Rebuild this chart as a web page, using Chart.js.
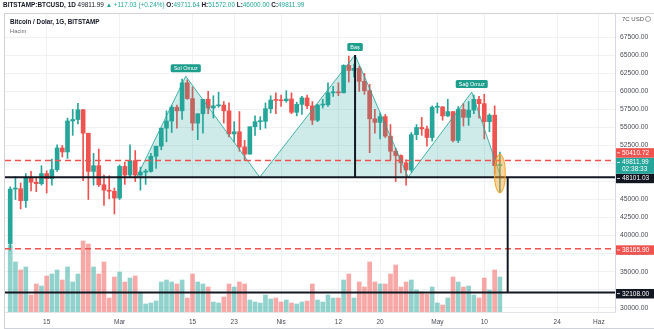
<!DOCTYPE html>
<html>
<head>
<meta charset="utf-8">
<script src="https://cdn.jsdelivr.net/npm/chart.js@4.4.1/dist/chart.umd.min.js"></script>
<style>
  html, body { margin: 0; padding: 0; background: #ffffff; overflow: hidden; }
  canvas { display: block; }
</style>
</head>
<body>
<canvas id="chart" width="654" height="329"></canvas>
<script>
// ---- Daily BTC/USD candles (Bitstamp), 8 Feb – 13 May 2021 ----
const firstDay = '2021-02-08';
const dayCount = 95;
const dates = (() => {
  const out = [];
  const d = new Date(firstDay + 'T00:00:00Z');
  for (let i = 0; i < dayCount; i++) {
    out.push(d.toISOString().slice(0, 10));
    d.setUTCDate(d.getUTCDate() + 1);
  }
  return out;
})();

const open = [
  38886, 46448, 46500, 44850, 47990, 47400, 47200, 48600, 47900, 49150,
  52150, 51600, 55900, 56100, 57450, 54200, 48900, 49700, 47050, 46300,
  46150, 45200, 49600, 48400, 50400, 48400, 48800, 48900, 51000, 52400,
  54900, 55900, 57800, 57300, 61200, 59000, 55600, 56900, 58900, 57700,
  58000, 58100, 57300, 54100, 54400, 52300, 51300, 55100, 55800, 55850,
  57600, 58800, 58750, 58700, 58950, 57100, 58200, 59100, 58000, 56000,
  58100, 58150, 59800, 59900, 59800, 63600, 62900, 63200, 61400, 60100,
  56200, 55700, 56500, 53800, 51700, 51100, 50100, 49100, 54000, 55000,
  54800, 53600, 57800, 57850, 56600, 57200, 53200, 57500, 56400, 57400,
  58900, 58300, 55800, 56700, 49711.64
];
const high = [
  46750, 48200, 47300, 48600, 48900, 48100, 49700, 49000, 50600, 52600,
  52500, 56300, 57500, 58350, 57500, 54200, 51400, 52000, 48400, 48300,
  46600, 49800, 50200, 52600, 51800, 49500, 49200, 51400, 52400, 54900,
  57300, 58100, 58100, 61700, 61600, 60600, 56900, 58900, 60000, 59400,
  59900, 58600, 58400, 55800, 57200, 53200, 55100, 56600, 56500, 58400,
  59400, 59800, 59500, 60100, 59800, 58500, 59300, 59500, 58600, 58200,
  58900, 61200, 60700, 61200, 63700, 64900, 63800, 63500, 62500, 61000,
  57500, 57000, 56800, 55400, 52100, 51200, 50500, 54300, 55400, 56400,
  55200, 58000, 58400, 57900, 58900, 57200, 57900, 58300, 58600, 59500,
  59300, 59600, 56900, 58000, 51572.00
];
const low = [
  37990, 45000, 43700, 43900, 46200, 46100, 47000, 45900, 47000, 48900,
  50900, 50700, 53900, 55500, 47600, 45000, 47000, 46800, 44200, 45100,
  43000, 45000, 47100, 48100, 47500, 46300, 47100, 48800, 49300, 51900,
  53000, 54300, 54900, 56100, 58900, 54600, 53300, 54200, 56900, 56300,
  57800, 55600, 53700, 53000, 51700, 50400, 51300, 53900, 54700, 54900,
  57000, 56900, 57900, 58500, 56900, 56600, 56800, 57600, 55400, 55800,
  57700, 57900, 59300, 59400, 59800, 61300, 62000, 60000, 59600, 51500,
  54200, 53400, 53600, 50500, 47500, 48700, 47000, 48800, 53300, 53900,
  52400, 53100, 57000, 56000, 56500, 53000, 52900, 55200, 55300, 56900,
  56300, 53400, 54400, 48600, 46000.00
];
const close = [
  46448, 46500, 44850, 47990, 47400, 47200, 48600, 47900, 49150, 52150,
  51600, 55900, 56100, 57450, 54200, 48900, 49700, 47050, 46300, 46150,
  45200, 49600, 48400, 50400, 48400, 48800, 48900, 51000, 52400, 54900,
  55900, 57800, 57300, 61200, 59000, 55600, 56900, 58900, 57700, 58000,
  58100, 57300, 54100, 54400, 52300, 51300, 55100, 55800, 55850, 57600,
  58800, 58750, 58700, 58950, 57100, 58200, 59100, 58000, 56000, 58100,
  58150, 59800, 59900, 59800, 63600, 62900, 63200, 61400, 60100, 56200,
  55700, 56500, 53800, 51700, 51100, 50100, 49100, 54000, 55000, 54800,
  53600, 57800, 57850, 56600, 57200, 53200, 57500, 56400, 57400, 58900,
  58300, 55800, 56700, 49695, 49811.99
];
// Volume (Hacim), BTC
const volume = [
  20100, 15000, 12600, 13500, 5100, 8400, 7800, 10800, 11400, 12600,
  9600, 13500, 9000, 11400, 21300, 20400, 13500, 11400, 15000, 4200,
  10500, 12000, 9000, 10200, 10800, 6000, 2400, 2700, 3300, 9000,
  9600, 9000, 8400, 9600, 4200, 11400, 9000, 8400, 7500, 3000,
  2700, 4500, 8400, 7500, 9000, 8400, 3600, 3000, 2700, 5100,
  3900, 4200, 3000, 3600, 2700, 2400, 3000, 3300, 8400, 3600,
  3000, 5100, 4200, 4200, 9600, 11400, 4200, 9000, 7500, 15000,
  9000, 8400, 8400, 11400, 14100, 7500, 9000, 9600, 6600, 6000,
  5400, 7500, 2700, 2100, 4200, 10500, 9000, 7500, 7800, 5100,
  4200, 10200, 6600, 12600, 10500
];

// Time axis ticks
const xTickDates  = ['2021-02-15', '2021-03-01', '2021-03-15', '2021-03-23', '2021-04-01', '2021-04-12',
                     '2021-04-20', '2021-05-01', '2021-05-10', '2021-05-24', '2021-06-01'];
const xTickLabels = ['15', 'Mar', '15', '23', 'Nis', '12', '20', 'May', '10', '24', 'Haz'];

// Price axis ticks
const yTickValues = [30000, 32500, 35000, 37500, 40000, 42500, 45000, 47500, 50000,
                     52500, 55000, 57500, 60000, 62500, 65000, 67500];
const yTicksHidden = [32500, 47500, 50000];

// Marked price levels
const neckline      = 48101.03;
const targetLevel   = 32108.00;
const resistance    = 50410.72;
const supportLevel  = 38165.90;
const lastPrice     = 49811.99;
const countdown     = '02:38:33';

// Head & shoulders drawing (day offset from first candle, price)
const patternDays   = [24.3, 33.7, 47.9, 66.2, 76.4, 88.6, 94.2];
const patternPrices = [48101.03, 62100, 48101.03, 65050, 48101.03, 59900, 48101.03];
const patternNames  = ['', 'Sol Omuz', '', 'Baş', '', 'Sağ Omuz', ''];
const targetLineDay = 95.5;

// Highlight around the latest candle
const markDay = 94, markPrice = 48600, markDays = 1.05, markPriceSpan = 2700;

// ---------------------------------------------------------------
const UP = '#26a69a', DOWN = '#ef5350';
const UP_VOL = 'rgba(38,166,154,0.5)', DOWN_VOL = 'rgba(239,83,80,0.5)';
const FONT = "'Liberation Sans', Arial, sans-serif";

const dayIndex = s => Math.round((Date.parse(s + 'T00:00:00Z') - Date.parse(firstDay + 'T00:00:00Z')) / 86400000);
const xTickDays = xTickDates.map(dayIndex);
const isUp = i => close[i] >= open[i];

const bodies = dates.map((d, i) => ({ x: i, y: [open[i], close[i]] }));
const wicks  = dates.map((d, i) => ({ x: i, y: [low[i], high[i]] }));
const vols   = dates.map((d, i) => ({ x: i, y: volume[i] }));
const candleColors = dates.map((d, i) => isUp(i) ? UP : DOWN);
const volColors    = dates.map((d, i) => isUp(i) ? UP_VOL : DOWN_VOL);
const pattern = patternDays.map((d, i) => ({ x: d, y: patternPrices[i] }));

function roundRect(ctx, x, y, w, h, r) {
  ctx.beginPath();
  ctx.moveTo(x + r, y);
  ctx.lineTo(x + w - r, y); ctx.quadraticCurveTo(x + w, y, x + w, y + r);
  ctx.lineTo(x + w, y + h - r); ctx.quadraticCurveTo(x + w, y + h, x + w - r, y + h);
  ctx.lineTo(x + r, y + h); ctx.quadraticCurveTo(x, y + h, x, y + h - r);
  ctx.lineTo(x, y + r); ctx.quadraticCurveTo(x, y, x + r, y);
  ctx.closePath();
}

const overlay = {
  id: 'overlay',
  afterDatasetsDraw(chart) {
    const { ctx, chartArea: a, scales: { x, y } } = chart;
    ctx.save();
    ctx.beginPath();
    ctx.rect(a.left, a.top, a.right - a.left, a.bottom - a.top);
    ctx.clip();

    // dashed red levels
    ctx.strokeStyle = DOWN;
    ctx.lineWidth = 1.5;
    ctx.setLineDash([6, 4]);
    [resistance, supportLevel].forEach(v => {
      const py = y.getPixelForValue(v);
      ctx.beginPath(); ctx.moveTo(a.left, py); ctx.lineTo(a.right - 3, py); ctx.stroke();
    });
    ctx.setLineDash([]);

    // solid black levels
    ctx.strokeStyle = '#131722';
    ctx.lineWidth = 2;
    [neckline, targetLevel].forEach(v => {
      const py = y.getPixelForValue(v);
      ctx.beginPath(); ctx.moveTo(a.left, py); ctx.lineTo(a.right, py); ctx.stroke();
    });

    // head height and projected target
    const hx = x.getPixelForValue(patternDays[3]);
    ctx.beginPath();
    ctx.moveTo(hx, y.getPixelForValue(patternPrices[3]));
    ctx.lineTo(hx, y.getPixelForValue(neckline));
    ctx.stroke();
    const tx = x.getPixelForValue(targetLineDay);
    ctx.beginPath();
    ctx.moveTo(tx, y.getPixelForValue(neckline));
    ctx.lineTo(tx, y.getPixelForValue(targetLevel));
    ctx.stroke();

    // highlight on the latest candle
    const cx = x.getPixelForValue(markDay), cy = y.getPixelForValue(markPrice);
    const rx = x.getPixelForValue(markDay + markDays) - cx;
    const ry = cy - y.getPixelForValue(markPrice + markPriceSpan);
    ctx.beginPath();
    ctx.ellipse(cx, cy, rx, ry, 0, 0, Math.PI * 2);
    ctx.fillStyle = 'rgba(255,160,40,0.45)';
    ctx.fill();
    ctx.strokeStyle = '#f5a22a';
    ctx.lineWidth = 1;
    ctx.stroke();

    // pattern point tags
    ctx.font = '5.5px ' + FONT;
    ctx.textAlign = 'center';
    ctx.textBaseline = 'middle';
    patternNames.forEach((name, i) => {
      if (!name) return;
      const px = x.getPixelForValue(patternDays[i]);
      const py = y.getPixelForValue(patternPrices[i]);
      const w = ctx.measureText(name).width + 6, h = 8;
      ctx.fillStyle = '#1e9e8c';
      roundRect(ctx, px - w / 2, py - 12, w, h, 1.5);
      ctx.fill();
      ctx.fillStyle = '#ffffff';
      ctx.fillText(name, px, py - 8);
    });
    ctx.restore();
  },
  afterDraw(chart) {
    const { ctx, chartArea: a, scales: { y } } = chart;
    ctx.save();

    // frame
    ctx.strokeStyle = '#cfd2d8';
    ctx.lineWidth = 1;
    ctx.strokeRect(4.5, 13.5, 650, 315);

    // header line
    const segs = [
      ['BITSTAMP:BTCUSD, 1D ', '#131722', 'bold '],
      ['49811.99 ', '#131722', ''],
      ['\u25B2 ', UP, ''],
      ['+117.03 (+0.24%) ', UP, ''],
      ['O:', '#131722', 'bold '], ['49711.64 ', UP, ''],
      ['H:', '#131722', 'bold '], ['51572.00 ', UP, ''],
      ['L:', '#131722', 'bold '], ['46000.00 ', UP, ''],
      ['C:', '#131722', 'bold '], ['49811.99', UP, '']
    ];
    let total = 0;
    segs.forEach(s => { ctx.font = s[2] + '10px ' + FONT; total += ctx.measureText(s[0]).width; });
    const hs = 10 * 302 / total;
    let hx = 3;
    ctx.textBaseline = 'middle';
    ctx.textAlign = 'left';
    segs.forEach(s => {
      ctx.font = s[2] + hs + 'px ' + FONT;
      ctx.fillStyle = s[1];
      ctx.fillText(s[0], hx, 5.5);
      hx += ctx.measureText(s[0]).width;
    });

    // chart title and volume caption
    ctx.font = 'bold 6.3px ' + FONT;
    ctx.fillStyle = '#131722';
    ctx.fillText('Bitcoin / Dolar, 1G, BITSTAMP', 10, 22);
    ctx.font = '5.8px ' + FONT;
    ctx.fillStyle = '#6a6d78';
    ctx.fillText('Hacim', 10, 31);

    // currency caption at the top of the price scale
    ctx.font = '6px ' + FONT;
    ctx.fillStyle = '#555';
    ctx.fillText('7C USD', 622, 19);
    ctx.beginPath();
    ctx.arc(648, 19, 2.5, 0, Math.PI * 2);
    ctx.strokeStyle = '#777';
    ctx.lineWidth = 0.7;
    ctx.stroke();

    // price tags on the scale, stacked so they do not overlap
    const tags = [
      { v: targetLevel, lines: [targetLevel.toFixed(2)], bg: '#131722' },
      { v: supportLevel, lines: [supportLevel.toFixed(2)], bg: DOWN },
      { v: neckline, lines: [neckline.toFixed(2)], bg: '#131722' },
      { v: lastPrice, lines: [lastPrice.toFixed(2), countdown], bg: UP },
      { v: resistance, lines: [resistance.toFixed(2)], bg: DOWN }
    ];
    let floor = Infinity;
    ctx.font = '6.5px ' + FONT;
    tags.forEach(t => {
      const h = t.lines.length === 1 ? 9.5 : 16;
      let top = y.getPixelForValue(t.v) - 3.5;
      if (top + h > floor) top = floor - h;
      floor = top;
      ctx.fillStyle = t.bg;
      ctx.fillRect(a.right + 1, top, 654 - a.right - 1, h);
      ctx.fillStyle = '#ffffff';
      ctx.fillRect(a.right + 2, top + 4.3, 3, 0.8);
      t.lines.forEach((s, k) => ctx.fillText(s, a.right + 7, top + 5 + k * 7));
    });
    ctx.restore();
  }
};

new Chart(document.getElementById('chart'), {
  type: 'bar',
  data: {
    datasets: [
      {
        type: 'line', data: pattern, yAxisID: 'y', order: 0,
        borderColor: 'rgba(38,166,154,0.85)', borderWidth: 1, pointRadius: 0, tension: 0,
        fill: { value: neckline }, backgroundColor: 'rgba(38,166,154,0.22)'
      },
      { data: bodies, yAxisID: 'y', order: 1, backgroundColor: candleColors,
        barThickness: 4, minBarLength: 1, grouped: false },
      { data: wicks, yAxisID: 'y', order: 2, backgroundColor: candleColors,
        barThickness: 1, grouped: false },
      { data: vols, yAxisID: 'yVol', order: 3, backgroundColor: volColors,
        barThickness: 4, grouped: false }
    ]
  },
  options: {
    responsive: false,
    devicePixelRatio: 1,
    animation: false,
    layout: { padding: { left: 5, top: 13, right: 0, bottom: 0 } },
    plugins: { legend: { display: false }, tooltip: { enabled: false } },
    scales: {
      x: {
        type: 'linear', min: -1.0, max: 116.1, offset: false,
        grid: { color: '#f0f1f4', offset: false, drawTicks: false },
        border: { color: '#e3e5ea' },
        afterBuildTicks: s => { s.ticks = xTickDays.map(v => ({ value: v })); },
        afterFit: s => { s.height = 17; },
        ticks: {
          autoSkip: false, maxRotation: 0, padding: 6, color: '#4a4d57',
          font: { size: 6.5, family: FONT },
          callback: (v, i) => xTickLabels[i]
        }
      },
      y: {
        type: 'linear', position: 'right', min: 29400, max: 70875,
        grid: { color: '#f0f1f4', drawTicks: false },
        border: { color: '#d6d9e0' },
        afterBuildTicks: s => { s.ticks = yTickValues.map(v => ({ value: v })); },
        afterFit: s => { s.width = 39; },
        ticks: {
          padding: 5, color: '#4a4d57',
          font: { size: 6.8, family: FONT },
          callback: v => yTicksHidden.includes(v) ? '' : v.toFixed(2)
        }
      },
      yVol: {
        type: 'linear', display: false, min: 0, max: 89700
      }
    }
  },
  plugins: [overlay]
});
</script>
</body>
</html>
